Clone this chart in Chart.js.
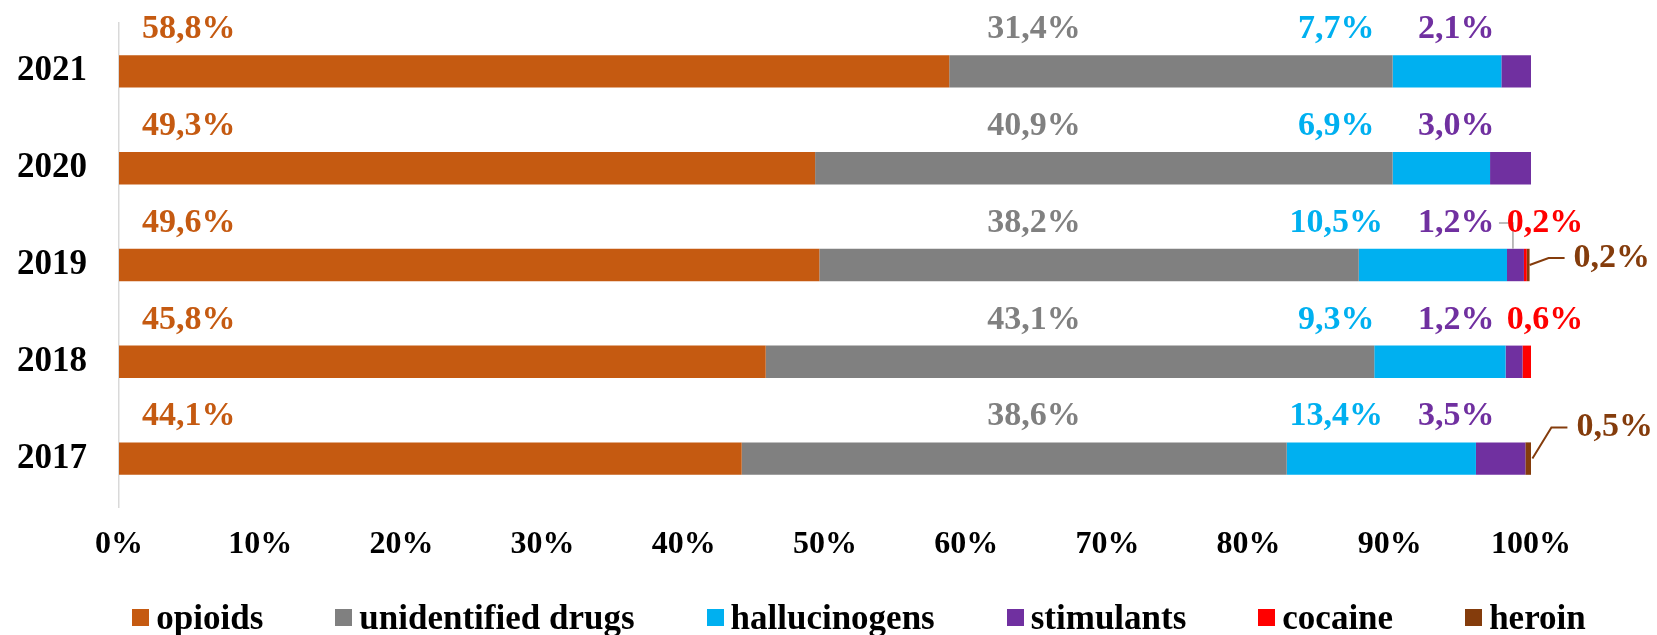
<!DOCTYPE html>
<html>
<head>
<meta charset="utf-8">
<script src="https://cdn.jsdelivr.net/npm/chart.js@4.4.0/dist/chart.umd.min.js"></script>
<style>
  html, body { margin: 0; padding: 0; background: #fff; }
  #wrap { position: relative; width: 1657px; height: 635px; }
  #legend {
    position: absolute; left: 61px; right: 0; top: 600px; height: 35px;
    display: flex; justify-content: center; align-items: center; gap: 72px;
    font: bold 35px 'Liberation Serif', 'Times New Roman', serif; color: #000; line-height: 35px;
  }
  #legend .item { display: flex; align-items: center; white-space: nowrap; }
  #legend .sw { width: 17px; height: 17px; margin-right: 7px; }
</style>
</head>
<body>
<div id="wrap">
  <canvas id="chartCanvas"></canvas>
  <div id="legend"></div>
</div>
<script>
let years = ['2021', '2020', '2019', '2018', '2017'];
let opioids = [58.8, 49.3, 49.6, 45.8, 44.1];
let unidentified = [31.4, 40.9, 38.2, 43.1, 38.6];
let hallucinogens = [7.7, 6.9, 10.5, 9.3, 13.4];
let stimulants = [2.1, 3.0, 1.2, 1.2, 3.5];
let cocaine = [0, 0, 0.2, 0.6, 0];
let heroin = [0, 0, 0.2, 0, 0.5];
let seriesNames = ['opioids', 'unidentified drugs', 'hallucinogens', 'stimulants', 'cocaine', 'heroin'];
let tickValues = [0, 10, 20, 30, 40, 50, 60, 70, 80, 90, 100];

let colors = ['#C55A11', '#808080', '#00B0F0', '#7030A0', '#FF0000', '#843C0C'];
let serif = "'Liberation Serif', 'Times New Roman', serif";

// where each series puts its labels (in axis units or relative to the bar)
let place = [
  { align: 'left', at: 0, dx: 23 },
  { align: 'center', at: 64.8 },
  { align: 'center', at: 86.2 },
  { align: 'center', at: 94.7 },
  { align: 'center', at: 101.0 },
  { align: 'left', outside: true }
];

let barLabels = {
  id: 'barLabels',
  afterDatasetsDraw(chart) {
    let ctx = chart.ctx;
    let xs = chart.scales.x;
    ctx.save();
    ctx.font = 'bold 34px ' + serif;
    ctx.textBaseline = 'middle';
    chart.data.datasets.forEach((ds, i) => {
      let meta = chart.getDatasetMeta(i);
      let p = place[i];
      meta.data.forEach((bar, j) => {
        let v = ds.data[j];
        if (!v) return;
        let b = bar.getProps(['x', 'y', 'base', 'height'], true);
        let txt = v.toFixed(1).replace('.', ',') + '%';
        let lx, ly = b.y - 42;
        if (p.outside) {
          ly = b.y + (cocaine[j] > 0 ? -7 : -31);
          lx = b.x + 44;
          ctx.strokeStyle = colors[i];
          ctx.lineWidth = 2;
          ctx.beginPath();
          ctx.moveTo(b.x, b.y);
          ctx.lineTo(b.x + 19, ly);
          ctx.lineTo(b.x + 35, ly);
          ctx.stroke();
        } else {
          lx = xs.getPixelForValue(p.at) + (p.dx || 0);
        }
        if (i === 4 && Math.abs(b.x - b.base) < 5) {
          let xl = b.base - 11;
          ctx.strokeStyle = '#A6A6A6';
          ctx.lineWidth = 1.5;
          ctx.beginPath();
          ctx.moveTo(xl - 14, ly);
          ctx.lineTo(xl, ly);
          ctx.lineTo(xl, b.y - b.height / 2);
          ctx.stroke();
        }
        ctx.textAlign = p.align;
        ctx.fillStyle = colors[i];
        ctx.fillText(txt, lx, ly);
      });
    });
    ctx.restore();
  }
};

let seriesData = [opioids, unidentified, hallucinogens, stimulants, cocaine, heroin];
let datasets = seriesNames.map((name, i) => ({
  label: name,
  data: seriesData[i],
  backgroundColor: colors[i],
  borderWidth: 0,
  categoryPercentage: 1.0,
  barPercentage: 0.335
}));

let mychart = document.getElementById('chartCanvas').getContext('2d');
let chart = new Chart(mychart, {
  type: 'bar',
  data: { labels: years, datasets: datasets },
  options: {
    indexAxis: 'y',
    responsive: true,
    maintainAspectRatio: false,
    animation: false,
    layout: { padding: { left: 0, right: 0, top: 23, bottom: 78 } },
    plugins: { legend: { display: false }, tooltip: { enabled: false } },
    scales: {
      x: {
        stacked: true,
        min: 0,
        max: 100,
        afterBuildTicks: s => { s.ticks = tickValues.map(v => ({ value: v })); },
        afterFit: s => { s.paddingRight = 126; s.height = 50; },
        grid: { display: false },
        border: { display: false },
        ticks: {
          callback: v => v + '%',
          color: '#000',
          padding: 11,
          maxRotation: 0,
          font: { family: serif, size: 32, weight: 'bold' }
        }
      },
      y: {
        stacked: true,
        afterFit: s => { s.width = 119; s.paddingTop = 0; s.paddingBottom = 0; },
        grid: { display: false, drawTicks: false },
        border: { display: true, color: '#D9D9D9', width: 1.5 },
        ticks: {
          color: '#000',
          padding: 32,
          font: { family: serif, size: 35, weight: 'bold' }
        }
      }
    }
  },
  plugins: [barLabels]
});

let legendDiv = document.getElementById('legend');
seriesNames.forEach((name, i) => {
  legendDiv.innerHTML += `<span class="item"><span class="sw" style="background:${colors[i]}"></span>${name}</span>`;
});
</script>
</body>
</html>
